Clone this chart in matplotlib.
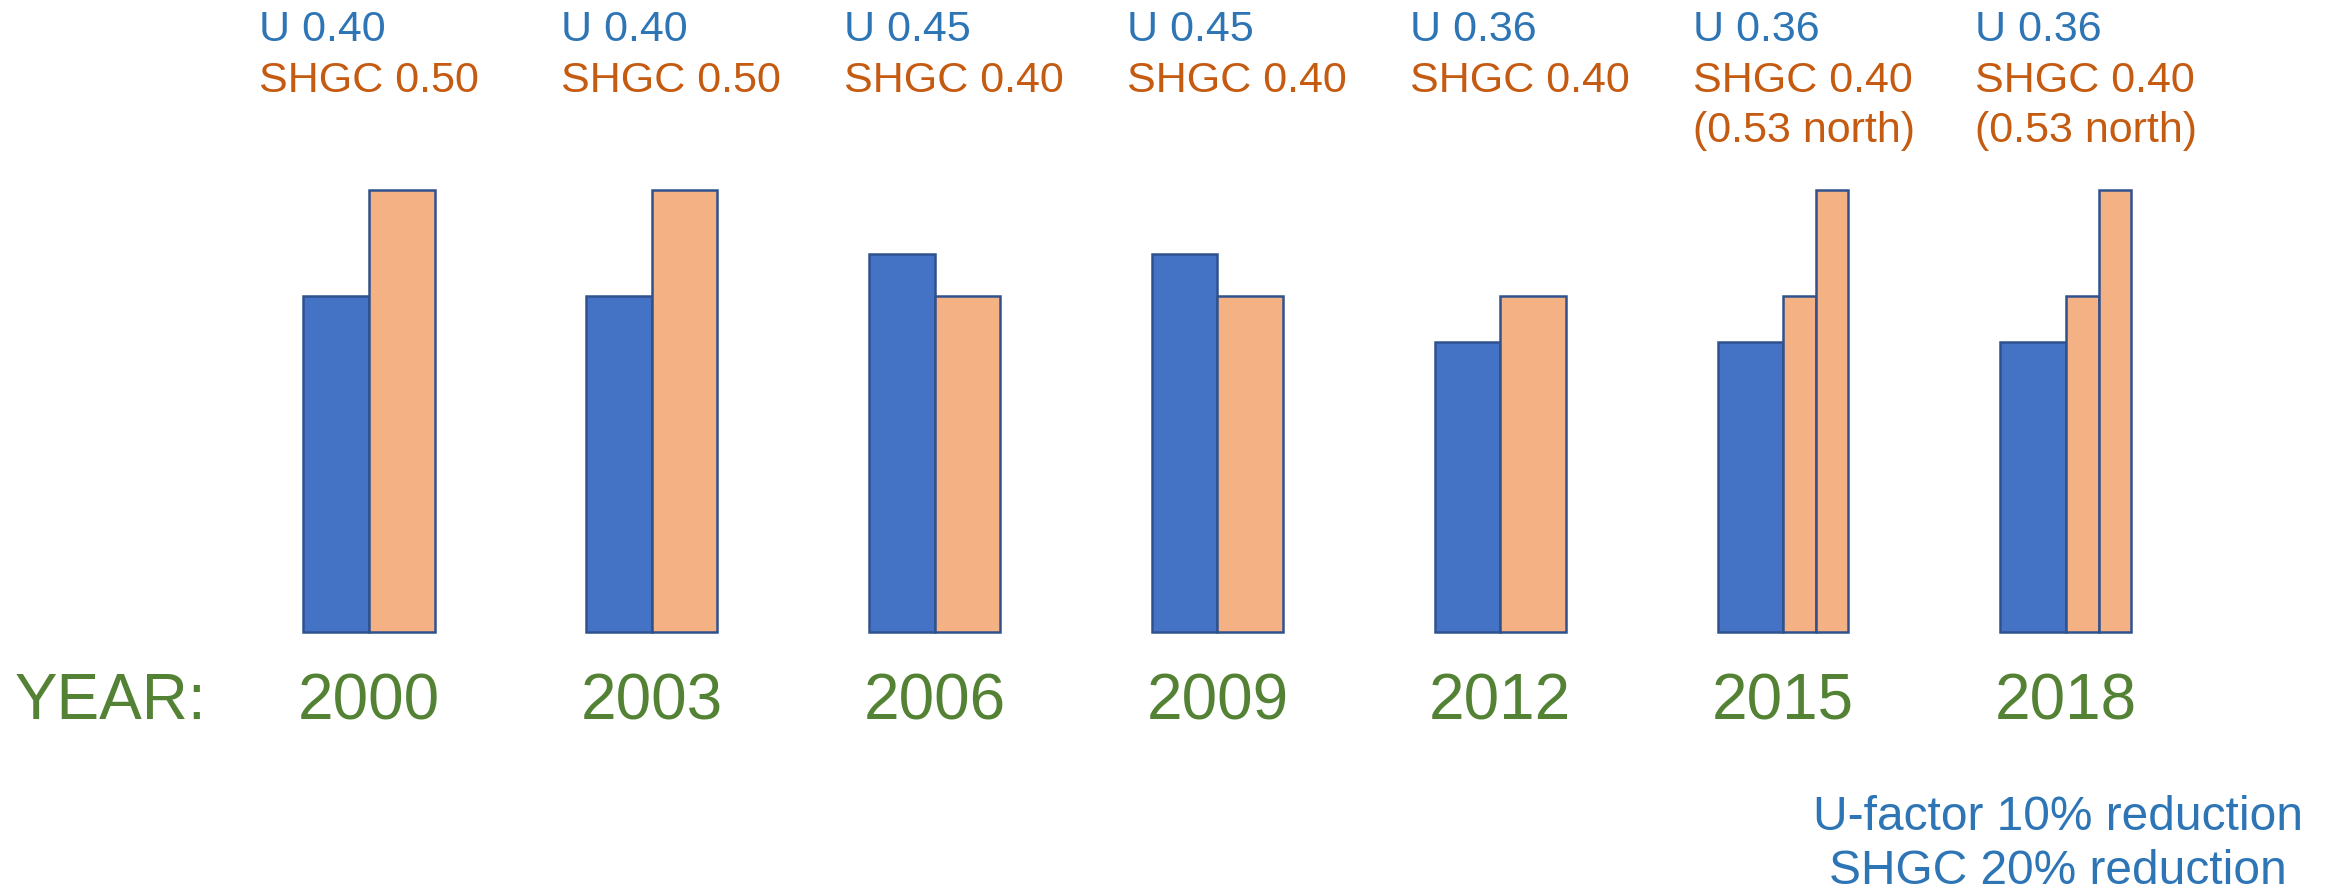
import matplotlib
matplotlib.use("Agg")
import matplotlib.pyplot as plt
from matplotlib.transforms import blended_transform_factory

plt.rcParams['font.family'] = ['Liberation Sans', 'DejaVu Sans']

# ---- data ----
years = ["2000", "2003", "2006", "2009", "2012", "2015", "2018"]
u_labels = ["U 0.40", "U 0.40", "U 0.45", "U 0.45", "U 0.36", "U 0.36", "U 0.36"]
shgc_labels = ["SHGC 0.50", "SHGC 0.50", "SHGC 0.40", "SHGC 0.40", "SHGC 0.40",
               "SHGC 0.40", "SHGC 0.40"]
north_labels = ["", "", "", "", "", "(0.53 north)", "(0.53 north)"]
# drawn bar heights (relative units, tallest = 100)
u_height = [76, 76, 85.5, 85.5, 65.6, 65.6, 65.6]
shgc_height = [100, 100, 76, 76, 76, 76, 76]
shgc_north_height = [None, None, None, None, None, 100, 100]
note_lines = ["U-factor 10% reduction", "SHGC 20% reduction"]

# ---- style ----
W, H = 2334, 890
BLUE_BAR = "#4472C4"
ORANGE_BAR = "#F4B183"
EDGE = "#2F528F"
BLUE_TXT = "#2E75B6"
ORANGE_TXT = "#C55A11"
GREEN_TXT = "#548235"

fig = plt.figure(figsize=(W / 100, H / 100), dpi=100)
ax = fig.add_axes([0, 0, 1, 1])
ax.set_axis_off()

px_per_unit = 282.83          # horizontal spacing between groups (px)
first_center = 369            # px of first group centre
xl = -first_center / px_per_unit
ax.set_xlim(xl, xl + W / px_per_unit)
baseline_px = 632             # px from top
y_scale = 4.42                # px per height unit
ax.set_ylim(-(H - baseline_px) / y_scale, baseline_px / y_scale)

bw = 0.232
nw = 0.115
lw = 1.8
for i in range(len(years)):
    ax.bar(i, u_height[i], width=-bw, align='edge', color=BLUE_BAR,
           edgecolor=EDGE, linewidth=lw)
    if shgc_north_height[i] is None:
        ax.bar(i, shgc_height[i], width=bw, align='edge', color=ORANGE_BAR,
               edgecolor=EDGE, linewidth=lw)
    else:
        ax.bar(i, shgc_height[i], width=nw, align='edge', color=ORANGE_BAR,
               edgecolor=EDGE, linewidth=lw)
        ax.bar(i + nw, shgc_north_height[i], width=nw, align='edge',
               color=ORANGE_BAR, edgecolor=EDGE, linewidth=lw)

tr = blended_transform_factory(ax.transData, fig.transFigure)


def fy(px):
    return 1 - px / H


lab_fs = 31
label_offsets = [-0.39, -0.32, -0.32, -0.32, -0.32, -0.32, -0.32]
for i in range(len(years)):
    x = i + label_offsets[i]
    ax.text(x, fy(41), u_labels[i], color=BLUE_TXT, fontsize=lab_fs,
            ha='left', va='baseline', transform=tr)
    ax.text(x, fy(92), shgc_labels[i], color=ORANGE_TXT, fontsize=lab_fs,
            ha='left', va='baseline', transform=tr)
    if north_labels[i]:
        ax.text(x, fy(142), north_labels[i], color=ORANGE_TXT, fontsize=lab_fs,
                ha='left', va='baseline', transform=tr)
    ax.text(i, fy(719), years[i], color=GREEN_TXT, fontsize=46,
            ha='center', va='baseline', transform=tr)

fig.text(15 / W, fy(719), "YEAR:", color=GREEN_TXT, fontsize=46,
         ha='left', va='baseline')

fig.text(2058 / W, fy(830), note_lines[0], color=BLUE_TXT, fontsize=34.5,
         ha='center', va='baseline')
fig.text(2058 / W, fy(884), note_lines[1], color=BLUE_TXT, fontsize=34.5,
         ha='center', va='baseline')

fig.savefig("out.png", dpi=100, facecolor="white")
